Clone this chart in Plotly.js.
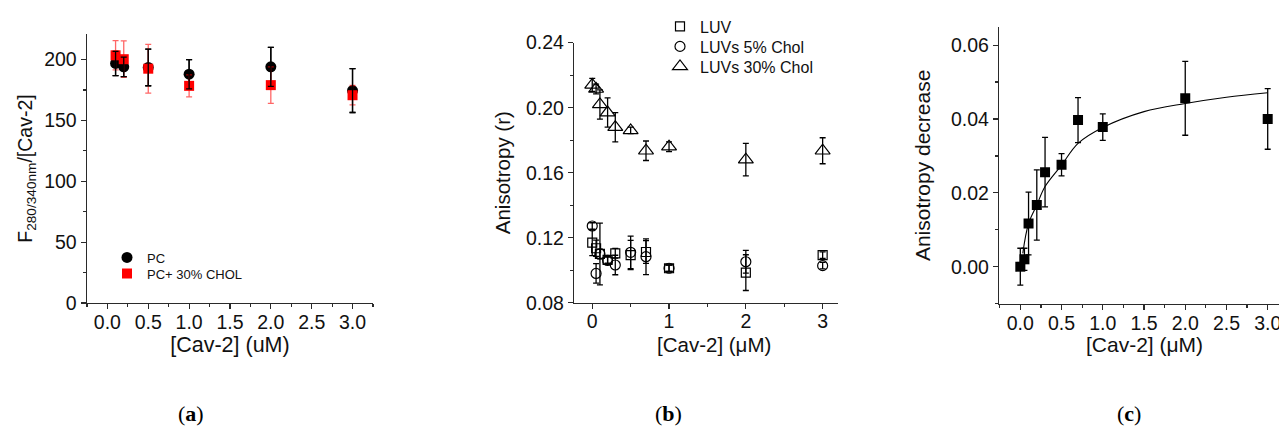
<!DOCTYPE html>
<html>
<head>
<meta charset="utf-8">
<script src="https://cdn.plot.ly/plotly-3.0.1.min.js"></script>
<style>html,body{margin:0;padding:0;background:#fff;}#chart{width:1279px;height:431px;}</style>
</head>
<body>
<div id="chart"></div>
<script>
// ---- Panel (a) ----
const a_x = [0.1, 0.2, 0.5, 1.0, 2.0, 3.0];
const a_pc = [196.8, 194, 193.5, 188, 194, 174.5];
const a_pc_err = [10, 8, 15, 12, 16, 18];
const a_chol = [203.5, 200.3, 192.5, 178.4, 179, 170.7];
const a_chol_err = [12, 15, 20, 9, 15, 8];

// ---- Panel (b) ----
const b_x = [0, 0.05, 0.1, 0.2, 0.3, 0.5, 0.7, 1, 2, 3];
const b_luv = [0.117, 0.1135, 0.110, 0.1063, 0.1104, 0.1093, 0.1112, 0.1012, 0.0985, 0.1093];
const b_luv_err = [0.008, 0.005, 0.003, 0.002, 0.003, 0.009, 0.007, 0.002, 0.011, 0.002];
const b_chol5 = [0.1272, 0.098, 0.110, 0.106, 0.1032, 0.111, 0.1083, 0.1012, 0.1052, 0.1028];
const b_chol5_err = [0.002, 0.006, 0.019, 0.002, 0.006, 0.010, 0.011, 0.002, 0.007, 0.002];
const b_chol30 = [0.214, 0.2115, 0.202, 0.197, 0.188, 0.186, 0.1735, 0.176, 0.168, 0.1735];
const b_chol30_err = [0.004, 0.003, 0.009, 0.009, 0.009, 0.002, 0.006, 0.003, 0.010, 0.008];

// ---- Panel (c) ----
const c_x = [0, 0.05, 0.1, 0.2, 0.3, 0.5, 0.7, 1.0, 2.0, 3.0];
const c_y = [0.0, 0.002, 0.0117, 0.0167, 0.0256, 0.0276, 0.0397, 0.0378, 0.0456, 0.040];
const c_err = [0.005, 0.003, 0.0085, 0.0095, 0.0094, 0.003, 0.0061, 0.0036, 0.010, 0.0082];
const c_fit_x = [0.03, 0.1, 0.2, 0.3, 0.5, 0.7, 1.0, 1.5, 2.0, 2.5, 3.0];
const c_fit_y = [0.0036, 0.0117, 0.0167, 0.0217, 0.0275, 0.0334, 0.0377, 0.0420, 0.0442, 0.0459, 0.0471];

const FONT = 'Liberation Sans, Arial, sans-serif';
const SERIF = 'Liberation Serif, Times New Roman, serif';
const AX = '#2a2a2a';
const TXT = '#111';

function errY(arr, color) {
  return {type: 'data', array: arr, visible: true, color: color, thickness: 1.3, width: 3};
}

const traces = [
  // panel a
  {x: a_x, y: a_pc, type: 'scatter', mode: 'markers', name: 'PC',
   marker: {symbol: 'circle', size: 11, color: '#000'},
   error_y: errY(a_pc_err, '#000'), xaxis: 'x', yaxis: 'y', legend: 'legend'},
  {x: a_x, y: a_chol, type: 'scatter', mode: 'markers', name: 'PC+ 30% CHOL',
   marker: {symbol: 'square', size: 10, color: '#ff0000'},
   error_y: errY(a_chol_err, 'rgba(255,0,0,0.6)'), xaxis: 'x', yaxis: 'y', legend: 'legend2'},
  {x: a_x, y: a_pc, type: 'scatter', mode: 'markers', showlegend: false, hoverinfo: 'skip',
   marker: {size: 1, color: 'rgba(0,0,0,0)'},
   error_y: errY(a_pc_err, '#000'), xaxis: 'x', yaxis: 'y'},
  // panel b
  {x: b_x, y: b_luv, type: 'scatter', mode: 'markers', name: 'LUV',
   marker: {symbol: 'square-open', size: 9, color: '#000', line: {width: 1.2}},
   error_y: errY(b_luv_err, '#000'), xaxis: 'x2', yaxis: 'y2', legend: 'legend3'},
  {x: b_x, y: b_chol5, type: 'scatter', mode: 'markers', name: 'LUVs 5% Chol',
   marker: {symbol: 'circle-open', size: 10, color: '#000', line: {width: 1.2}},
   error_y: errY(b_chol5_err, '#000'), xaxis: 'x2', yaxis: 'y2', legend: 'legend4'},
  {x: b_x, y: b_chol30, type: 'scatter', mode: 'markers', name: 'LUVs 30% Chol',
   marker: {symbol: 'triangle-up-open', size: 13, color: '#000', line: {width: 1.2}},
   error_y: errY(b_chol30_err, '#000'), xaxis: 'x2', yaxis: 'y2', legend: 'legend5'},
  // panel c
  {x: c_fit_x, y: c_fit_y, type: 'scatter', mode: 'lines', showlegend: false,
   line: {color: '#000', width: 1.1, shape: 'spline'}, xaxis: 'x3', yaxis: 'y3'},
  {x: c_x, y: c_y, type: 'scatter', mode: 'markers', showlegend: false,
   marker: {symbol: 'square', size: 10, color: '#000'},
   error_y: errY(c_err, '#000'), xaxis: 'x3', yaxis: 'y3'}
];

function ax(domain, range, dtick, minor, fmt, title, tfs, standoff, anchor, tls) {
  return {domain: domain, range: range, dtick: dtick, tick0: 0, tickformat: fmt,
    ticks: 'outside', ticklen: 5, tickwidth: 1.2, tickcolor: AX,
    ticklabelstandoff: tls || 0,
    minor: {dtick: minor, tick0: 0, ticks: 'outside', ticklen: 3, tickwidth: 1.2, tickcolor: AX},
    showline: true, linecolor: AX, linewidth: 1.4, showgrid: false, zeroline: false,
    tickfont: {family: FONT, size: 19.5, color: TXT},
    title: {text: title, font: {family: FONT, size: tfs, color: TXT}, standoff: standoff},
    anchor: anchor, automargin: false};
}

function leg(px, py, fs) {
  return {x: px / 1279, xanchor: 'left', y: 1 - (py - 14.5) / 431, yanchor: 'top',
    bgcolor: 'rgba(0,0,0,0)', font: {family: FONT, size: fs, color: TXT}};
}

function label(t, cx) {
  return {text: '(<b>' + t + '</b>)', x: cx / 1279, y: (431 - 413) / 431, xref: 'paper', yref: 'paper',
    showarrow: false, xanchor: 'center', yanchor: 'middle', font: {family: SERIF, size: 22, color: '#000'}};
}

function xtitle(t, cx, cy, fs) {
  return {text: t, x: cx / 1279, y: (431 - cy) / 431, xref: 'paper', yref: 'paper',
    showarrow: false, xanchor: 'center', yanchor: 'middle', font: {family: FONT, size: fs, color: TXT}};
}

const layout = {
  width: 1279, height: 431,
  margin: {l: 0, r: 0, t: 0, b: 0},
  paper_bgcolor: '#fff', plot_bgcolor: '#fff',
  showlegend: true,
  font: {family: FONT, color: TXT},
  xaxis: ax([0.0680, 0.2916], [-0.25, 3.25], 0.5, 0.25, '.1f', '[Cav-2] (uM)', 21.5, 4, 'y', -4),
  yaxis: ax([0.2970, 0.9211], [0, 221], 50, 25, '', 'F<sub>280/340nm</sub>/[Cav-2]', 19.5, 6, 'x'),
  xaxis2: ax([0.4490, 0.6552], [-0.234, 3.2], 1, 0.5, 'd', '', 20.5, 0, 'y2', -4),
  yaxis2: ax([0.2977, 0.9010], [0.08, 0.24], 0.04, 0.02, '.2f', 'Anisotropy (r)', 20.5, 10, 'x2'),
  xaxis3: Object.assign(ax([0.7813, 1], [-0.255, 3.137], 0.5, 0.25, '.1f', '', 21, 0, 'y3', -4), {ticklabeloverflow: 'allow'}),
  yaxis3: ax([0.2947, 0.9381], [-0.0101, 0.065], 0.02, 0.01, '.2f', 'Anisotropy decrease', 21, 14, 'x3'),
  legend: leg(107, 257, 13),
  legend2: leg(107, 273, 13),
  legend3: leg(660, 24, 16),
  legend4: leg(660, 44, 16),
  legend5: leg(660, 64, 16),
  annotations: [
    xtitle('[Cav-2] (\u03bcM)', 714, 344, 20.5),
    xtitle('[Cav-2] (\u03bcM)', 1144, 344, 21),
    label('a', 191), label('b', 668), label('c', 1129)
  ]
};

Plotly.newPlot('chart', traces, layout, {staticPlot: true, displayModeBar: false});
</script>
</body>
</html>
